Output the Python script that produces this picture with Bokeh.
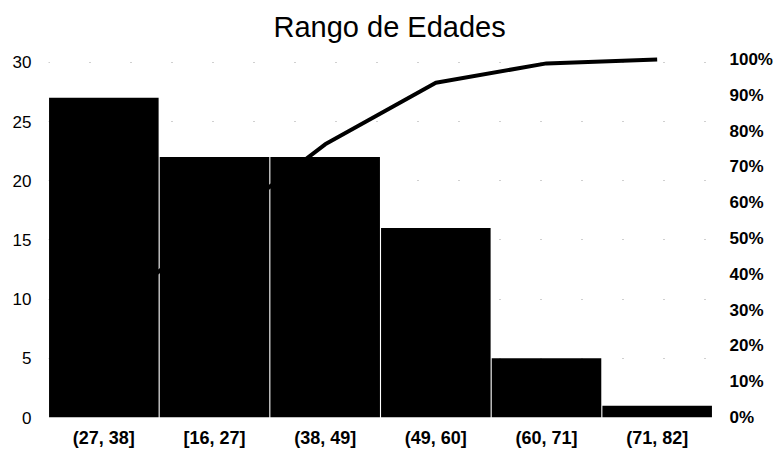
from bokeh.plotting import figure
from bokeh.models import Range1d, LinearAxis, FixedTicker, NumeralTickFormatter, FactorRange
from bokeh.embed import file_html
from bokeh.resources import INLINE

categories = ["(27, 38]", "[16, 27]", "(38, 49]", "(49, 60]", "(60, 71]", "(71, 82]"]
counts = [27, 22, 22, 16, 5, 1]
cum_pct = [0.29, 0.527, 0.763, 0.935, 0.989, 1.0]
left_ticks = [0, 5, 10, 15, 20, 25, 30]
right_ticks = [0.0, 0.1, 0.2, 0.3, 0.4, 0.5, 0.6, 0.7, 0.8, 0.9, 1.0]
title_text = "Rango de Edades"

FONT = "Liberation Sans"

p = figure(
    x_range=FactorRange(factors=categories, range_padding=0),
    y_range=Range1d(0, 31.0),
    frame_width=664, frame_height=367,
    min_border_left=48, min_border_right=50, min_border_top=50, min_border_bottom=30,
    output_backend="svg", toolbar_location=None,
    title=title_text,
)
p.extra_y_ranges = {"pct": Range1d(0, 1.025)}

p.line(categories, cum_pct, y_range_name="pct", line_width=4, line_color="black")
p.vbar(x=categories, top=counts, width=0.99, fill_color="black", line_color=None)

right = LinearAxis(y_range_name="pct", ticker=FixedTicker(ticks=right_ticks),
                   formatter=NumeralTickFormatter(format="0%"))
p.add_layout(right, "right")
p.yaxis[0].ticker = FixedTicker(ticks=left_ticks)

for ax in [p.xaxis[0], p.yaxis[0], right]:
    ax.axis_line_color = None
    ax.major_tick_line_color = None
    ax.minor_tick_line_color = None
    ax.major_label_text_font = FONT
    ax.major_label_text_color = "black"
p.yaxis[0].major_label_text_font_size = "17px"
p.yaxis[0].major_label_standoff = 11
right.major_label_text_font_size = "17px"
right.major_label_standoff = 11
right.major_label_text_font_style = "bold"
p.xaxis[0].major_label_text_font_size = "18px"
p.xaxis[0].major_label_standoff = 4
p.xaxis[0].major_label_text_font_style = "bold"

p.outline_line_color = None
p.xgrid.grid_line_color = None
p.ygrid.grid_line_color = "#777777"
p.ygrid.grid_line_dash = "1 40"
p.ygrid.grid_line_alpha = 0.7

p.title.text_font = FONT
p.title.text_font_size = "29px"
p.title.text_font_style = "normal"
p.title.align = "left"
p.title.offset = 225
p.title.standoff = 16
p.title.text_color = "black"

open("out.html", "w").write(file_html(p, INLINE))
